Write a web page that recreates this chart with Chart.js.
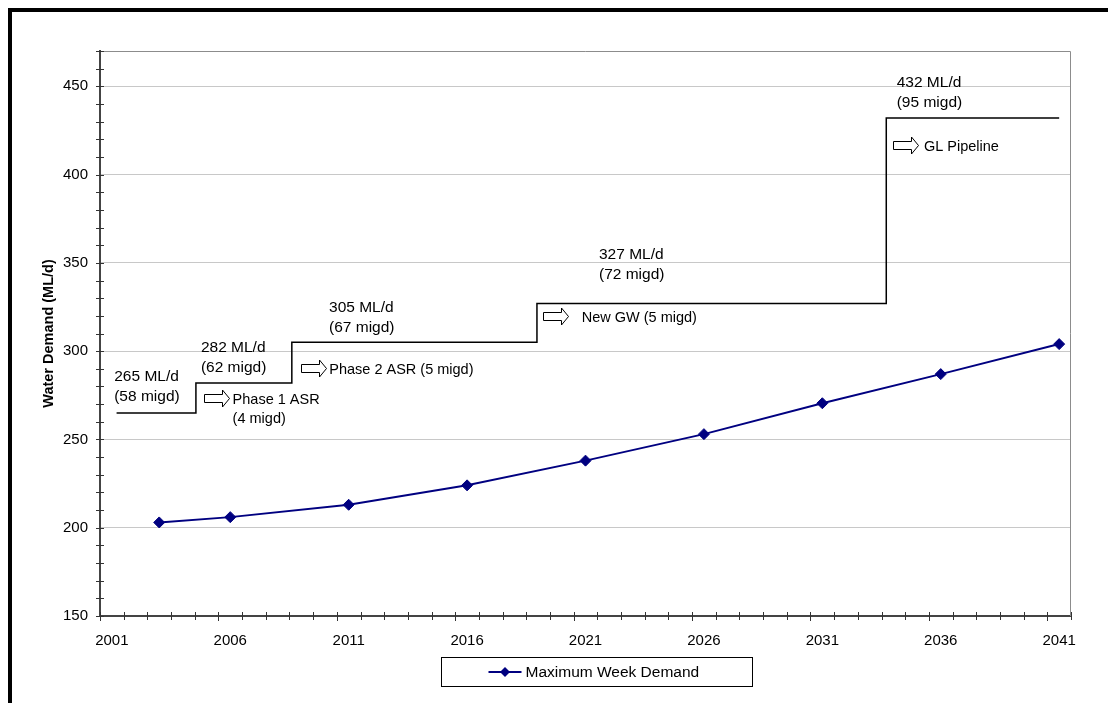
<!DOCTYPE html>
<html>
<head>
<meta charset="utf-8">
<title>Water Demand and Supply Capacity</title>
<script src="https://cdn.jsdelivr.net/npm/chart.js@4/dist/chart.umd.min.js"></script>
<style>
  html, body { margin: 0; padding: 0; background: #fff; overflow: hidden; }
  #frame {
    position: absolute; left: 8px; top: 8px; width: 1400px; height: 1000px;
    border: 4px solid #000; box-sizing: border-box;
  }
  #chart { position: absolute; left: 0; top: 0; }
</style>
</head>
<body>
<div id="frame"></div>
<canvas id="chart" width="1108" height="703"></canvas>
<script>
// Maximum week demand forecast (ML/d)
const demandYears = [2003, 2006, 2011, 2016, 2021, 2026, 2031, 2036, 2041];
const maxWeekDemand = [203, 206, 213, 224, 238, 253, 270.5, 287, 304];

// Supply capacity staircase: year each capacity takes effect, capacity (ML/d)
const capacityYears = [2001.2, 2004.55, 2008.6, 2018.95, 2033.7, 2041];
const capacityValues = [265, 282, 305, 327, 432, 432];

// Tick labels
const yearLabels = [2001, 2006, 2011, 2016, 2021, 2026, 2031, 2036, 2041];
const demandLabels = [150, 200, 250, 300, 350, 400, 450];

// Capacity notes and new-source notes
const capacityNotes = [
  ['265 ML/d', '(58 migd)'],
  ['282 ML/d', '(62 migd)'],
  ['305 ML/d', '(67 migd)'],
  ['327 ML/d', '(72 migd)'],
  ['432 ML/d', '(95 migd)']
];
const sourceNotes = [
  ['Phase 1 ASR', '(4 migd)'],
  ['Phase 2 ASR (5 migd)'],
  ['New GW (5 migd)'],
  ['GL Pipeline']
];

// Where the notes sit, in axis units (year, ML/d)
const capacityNoteAnchors = [
  [2001.10, 285.4], [2004.76, 301.9], [2010.17, 324.8], [2021.57, 354.4], [2034.14, 452.0]
];
const sourceNoteAnchors = [
  { arrow: 2004.89, text: 2006.10, value: 272.4 },
  { arrow: 2008.99, text: 2010.18, value: 289.1 },
  { arrow: 2019.22, text: 2020.84, value: 318.5 },
  { arrow: 2033.97, text: 2035.29, value: 415.8 }
];

const FONT = "'Liberation Sans', Arial, Helvetica, sans-serif";
Chart.defaults.font.family = FONT;
Chart.defaults.color = '#000';

// Cross tick marks, plot frame and notes
const chartDecor = {
  id: 'chartDecor',
  beforeDatasetsDraw(chart) {
    const { ctx, chartArea: a } = chart;
    ctx.save();
    ctx.strokeStyle = '#8c8c8c';
    ctx.lineWidth = 1;
    ctx.beginPath();
    ctx.moveTo(a.left, a.top + 0.5);
    ctx.lineTo(a.right - 0.5, a.top + 0.5);
    ctx.lineTo(a.right - 0.5, a.bottom);
    ctx.stroke();
    ctx.restore();
  },
  afterDraw(chart) {
    const { ctx, chartArea: a, scales } = chart;
    const x = scales.x, y = scales.y;
    ctx.save();
    ctx.strokeStyle = '#333';
    ctx.lineWidth = 1;
    ctx.beginPath();
    for (let v = y.min; v <= y.max + 1e-6; v += 10) {
      const py = Math.round(y.getPixelForValue(v)) + 0.5;
      ctx.moveTo(a.left - 4, py);
      ctx.lineTo(a.left + 4, py);
    }
    for (let v = x.min, k = 0; v <= x.max + 1e-6; v += 1, k++) {
      const px = Math.round(x.getPixelForValue(v)) + 0.5;
      ctx.moveTo(px, a.bottom - 4);
      ctx.lineTo(px, a.bottom + (k % 5 === 0 ? 5 : 4));
    }
    ctx.stroke();

    // capacity notes
    ctx.fillStyle = '#000';
    ctx.textBaseline = 'middle';
    ctx.textAlign = 'left';
    ctx.font = '15.5px ' + FONT;
    capacityNotes.forEach((lines, i) => {
      const [yr, val] = capacityNoteAnchors[i];
      const px = x.getPixelForValue(yr), py = y.getPixelForValue(val);
      lines.forEach((t, j) => ctx.fillText(t, px, py + j * 20));
    });

    // new-source notes with hollow block arrows
    ctx.font = '14.5px ' + FONT;
    sourceNotes.forEach((lines, i) => {
      const s = sourceNoteAnchors[i];
      const tx = x.getPixelForValue(s.text), ty = y.getPixelForValue(s.value);
      lines.forEach((t, j) => ctx.fillText(t, tx, ty + j * 19.5));
      const ax = Math.round(x.getPixelForValue(s.arrow)) + 0.5;
      const ay = Math.round(ty - 2) + 0.5;
      const w = 25, hl = 7, sh = 4, hh = 8.5;
      ctx.beginPath();
      ctx.moveTo(ax, ay - sh);
      ctx.lineTo(ax + w - hl, ay - sh);
      ctx.lineTo(ax + w - hl, ay - hh);
      ctx.lineTo(ax + w, ay);
      ctx.lineTo(ax + w - hl, ay + hh);
      ctx.lineTo(ax + w - hl, ay + sh);
      ctx.lineTo(ax, ay + sh);
      ctx.closePath();
      ctx.fillStyle = '#fff';
      ctx.fill();
      ctx.strokeStyle = '#000';
      ctx.lineWidth = 1;
      ctx.stroke();
      ctx.fillStyle = '#000';
    });

    // boxed legend for the demand series
    const ds = chart.data.datasets[0];
    const cx = (a.left + a.right) / 2 + 11;
    const boxW = 311, boxH = 29;
    const bx = Math.round(cx - boxW / 2) + 0.5, by = Math.round(a.bottom + 41) + 0.5;
    ctx.strokeStyle = '#000';
    ctx.lineWidth = 1;
    ctx.strokeRect(bx, by, boxW, boxH);
    const ly = by + boxH / 2;
    const lx = bx + 47;
    ctx.strokeStyle = ds.borderColor;
    ctx.lineWidth = 2;
    ctx.beginPath();
    ctx.moveTo(lx, ly);
    ctx.lineTo(lx + 33, ly);
    ctx.stroke();
    ctx.fillStyle = ds.backgroundColor;
    ctx.beginPath();
    const mx = lx + 16.5, r = 5;
    ctx.moveTo(mx - r, ly);
    ctx.lineTo(mx, ly - r);
    ctx.lineTo(mx + r, ly);
    ctx.lineTo(mx, ly + r);
    ctx.closePath();
    ctx.fill();
    ctx.fillStyle = '#000';
    ctx.font = '15.5px ' + FONT;
    ctx.textBaseline = 'middle';
    ctx.fillText(ds.label, lx + 37, ly + 1);
    ctx.restore();
  }
};

new Chart(document.getElementById('chart'), {
  type: 'line',
  data: {
    datasets: [
      {
        label: 'Maximum Week Demand',
        data: demandYears.map((yr, i) => ({ x: yr, y: maxWeekDemand[i] })),
        borderColor: '#000080',
        backgroundColor: '#000080',
        borderWidth: 2,
        pointStyle: 'rectRot',
        pointRadius: 5.5,
        pointBorderWidth: 1,
        tension: 0,
        order: 1
      },
      {
        label: 'Supply capacity',
        data: capacityYears.map((yr, i) => ({ x: yr, y: capacityValues[i] })),
        borderColor: '#000',
        borderWidth: 1.5,
        stepped: true,
        pointRadius: 0,
        fill: false,
        order: 2
      }
    ]
  },
  options: {
    responsive: false,
    animation: false,
    devicePixelRatio: 1,
    layout: { padding: { left: 12, top: 51, right: 37, bottom: 57 } },
    plugins: {
      legend: { display: false },
      tooltip: { enabled: false }
    },
    scales: {
      x: {
        type: 'linear',
        min: 2000.5,
        max: 2041.5,
        afterBuildTicks: s => { s.ticks = yearLabels.map(v => ({ value: v })); },
        afterFit: s => { s.height = 30; },
        ticks: {
          autoSkip: false,
          maxRotation: 0,
          padding: 16,
          font: { size: 15 },
          color: '#000',
          callback: v => String(v)
        },
        grid: { drawOnChartArea: false, drawTicks: false },
        border: { color: '#444', width: 2 }
      },
      y: {
        min: 150,
        max: 470,
        afterBuildTicks: s => {
          const t = [];
          for (let v = 150; v <= 470; v += 10) t.push({ value: v });
          s.ticks = t;
        },
        afterFit: s => { s.width = 88; },
        ticks: {
          autoSkip: false,
          padding: 12,
          font: { size: 15 },
          color: '#000',
          callback: v => demandLabels.includes(v) ? String(v) : ''
        },
        grid: {
          drawTicks: false,
          lineWidth: 1,
          color: c => (c.tick && demandLabels.includes(c.tick.value) && c.tick.value !== 150) ? '#c8c8c8' : 'rgba(0,0,0,0)'
        },
        border: { color: '#444', width: 2 },
        title: {
          display: true,
          text: 'Water Demand (ML/d)',
          font: { size: 14.5, weight: 'bold' },
          color: '#000',
          padding: { top: 28, bottom: 0 }
        }
      }
    }
  },
  plugins: [chartDecor]
});
</script>
</body>
</html>
